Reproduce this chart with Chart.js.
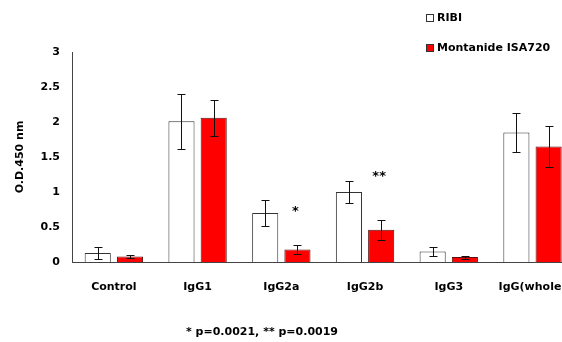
<!DOCTYPE html>
<html>
<head>
<meta charset="utf-8">
<script src="https://cdn.jsdelivr.net/npm/chart.js@4/dist/chart.umd.min.js"></script>
<style>
    html, body { margin: 0; padding: 0; background: #fff; overflow: hidden; }
    canvas { display: block; }
</style>
</head>
<body>
<canvas id="chart" width="586" height="342"></canvas>
<script>
// --- Data ---
const categories = ['Control', 'IgG1', 'IgG2a', 'IgG2b', 'IgG3', 'IgG(whole)'];
const ribi = [0.13, 2.01, 0.70, 1.00, 0.15, 1.85];
const ribiErr = [0.09, 0.39, 0.18, 0.16, 0.06, 0.28];
const montanide = [0.08, 2.06, 0.18, 0.46, 0.07, 1.65];
const montanideErr = [0.02, 0.26, 0.06, 0.14, 0.02, 0.29];
const stars = ['', '', '*', '**', '', ''];
const starLevel = [null, null, 0.73, 1.23, null, null];
const yTicks = [0, 0.5, 1, 1.5, 2, 2.5, 3];
const footnote = '* p=0.0021, ** p=0.0019';

const FONT = 'DejaVu Sans';
const boldFont = { family: FONT, size: 11, weight: 'bold' };

// --- Error bars, stars, legend and footnote ---
const extras = {
    id: 'extras',
    afterDatasetsDraw(chart) {
        const ctx = chart.ctx;
        const y = chart.scales.y;
        const errs = [ribiErr, montanideErr];
        ctx.save();
        ctx.strokeStyle = '#111';
        ctx.lineWidth = 1;
        chart.data.datasets.forEach((ds, i) => {
            chart.getDatasetMeta(i).data.forEach((bar, j) => {
                const x = Math.round(bar.x) + 0.5;
                const hi = Math.round(y.getPixelForValue(ds.data[j] + errs[i][j])) + 0.5;
                const lo = Math.round(y.getPixelForValue(Math.max(0, ds.data[j] - errs[i][j]))) + 0.5;
                ctx.beginPath();
                ctx.moveTo(x, hi); ctx.lineTo(x, lo);
                ctx.moveTo(x - 4, hi); ctx.lineTo(x + 4, hi);
                ctx.moveTo(x - 4, lo); ctx.lineTo(x + 4, lo);
                ctx.stroke();
            });
        });

        // significance stars above the Montanide bars
        ctx.fillStyle = '#000';
        ctx.font = 'bold 13px "' + FONT + '"';
        ctx.textAlign = 'center';
        ctx.textBaseline = 'middle';
        const meta = chart.getDatasetMeta(1);
        stars.forEach((s, j) => {
            if (!s) return;
            ctx.fillText(s, meta.data[j].x - 2, y.getPixelForValue(starLevel[j]) + 1);
        });
        ctx.restore();
    },
    afterDraw(chart) {
        const ctx = chart.ctx;
        ctx.save();
        ctx.font = 'bold 11px "' + FONT + '"';
        ctx.textBaseline = 'middle';
        ctx.textAlign = 'left';
        chart.data.datasets.forEach((ds, i) => {
            const top = 14 + i * 30;
            ctx.fillStyle = ds.backgroundColor;
            ctx.fillRect(426, top, 8, 8);
            ctx.strokeStyle = '#333';
            ctx.strokeRect(426.5, top + 0.5, 7, 7);
            ctx.fillStyle = '#000';
            ctx.fillText(ds.label, 437, top + 4.5);
        });
        ctx.textAlign = 'center';
        ctx.fillText(footnote, 262, 332);
        ctx.restore();
    }
};

new Chart(document.getElementById('chart'), {
    type: 'bar',
    data: {
        labels: categories,
        datasets: [
            {
                label: 'RIBI',
                data: ribi,
                backgroundColor: '#ffffff',
                borderColor: '#333333',
                borderWidth: 1
            },
            {
                label: 'Montanide ISA720',
                data: montanide,
                backgroundColor: '#ff0000',
                borderColor: '#5a1010',
                borderWidth: 1
            }
        ]
    },
    options: {
        responsive: false,
        animation: false,
        events: [],
        categoryPercentage: 0.77,
        barPercentage: 0.81,
        layout: { padding: { top: 52, right: 7, bottom: 40, left: 0 } },
        plugins: {
            legend: { display: false },
            tooltip: { enabled: false }
        },
        scales: {
            x: {
                grid: { display: false, drawTicks: false },
                border: { display: true, color: '#444', width: 1 },
                ticks: { color: '#000', font: boldFont, padding: 19, maxRotation: 0 },
                afterFit: (s) => { s.height = 40; }
            },
            y: {
                min: 0,
                max: 3,
                grid: { display: false, drawTicks: false },
                border: { display: true, color: '#444', width: 1 },
                afterBuildTicks: (s) => { s.ticks = yTicks.map(v => ({ value: v })); },
                ticks: { color: '#000', font: boldFont, padding: 12, callback: (v) => String(v) },
                title: {
                    display: true,
                    text: 'O.D.450 nm',
                    color: '#000',
                    font: boldFont,
                    padding: { top: 14, bottom: 0 }
                },
                afterFit: (s) => { s.width = 72; }
            }
        }
    },
    plugins: [extras]
});
</script>
</body>
</html>
